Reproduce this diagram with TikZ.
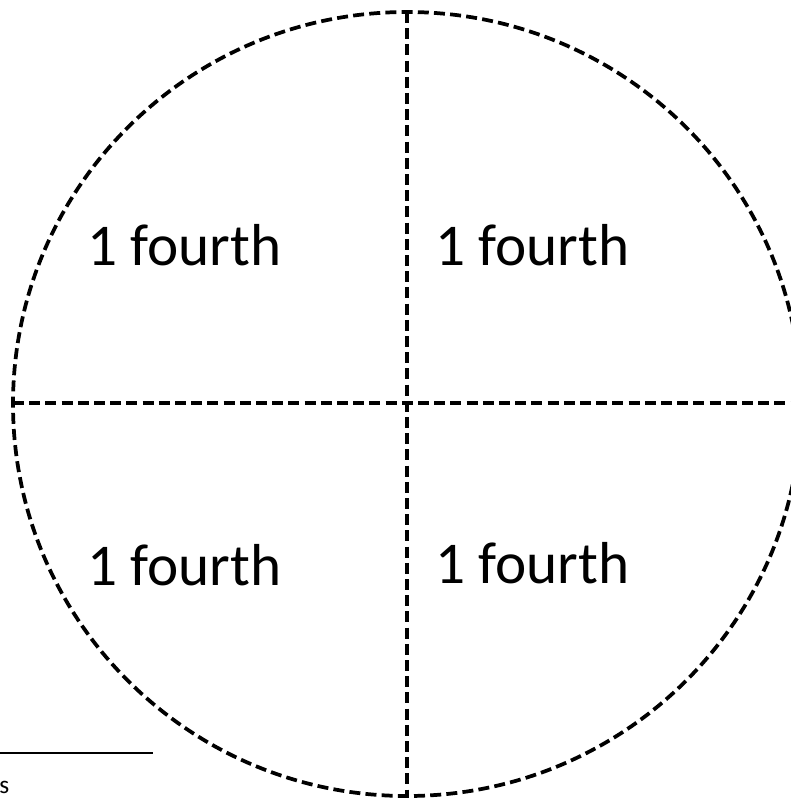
\documentclass[tikz,border=0pt]{standalone}
\usepackage{fontspec}
\setmainfont{Carlito}
\tikzset{
  dline/.style={line width=2.8pt, dash pattern=on 8.25pt off 3.9pt},
  lbl/.style={anchor=base west, inner sep=0pt, font=\fontsize{44.4pt}{52pt}\selectfont},
}
\begin{document}
\begin{tikzpicture}[x=0.75pt,y=-0.75pt]
\useasboundingbox (0,0) rectangle (791,799);
\clip (0,0) rectangle (791,799);
\coordinate (c) at (407,404);
\coordinate (t) at (407,12);
\coordinate (b) at (407,797);
\coordinate (l) at (13,403);
\coordinate (r) at (801,403);
\draw[dline] (c) ellipse [x radius=394, y radius=392];
\draw[dline] (t) -- (b);
\draw[dline] (l) -- (r);
\node[lbl] (q1) at (87,265) {1 fourth};
\node[lbl] (q2) at (435,265) {1 fourth};
\node[lbl] (q3) at (87,585) {1 fourth};
\node[lbl] (q4) at (435,583) {1 fourth};
\coordinate (f1) at (0,753);
\coordinate (f2) at (153,753);
\draw[line width=1.5pt] (f1) -- (f2);
\node[anchor=base west, inner sep=0pt, font=\fontsize{19pt}{22pt}\selectfont] (s) at (-1,793) {s};
\end{tikzpicture}
\end{document}
